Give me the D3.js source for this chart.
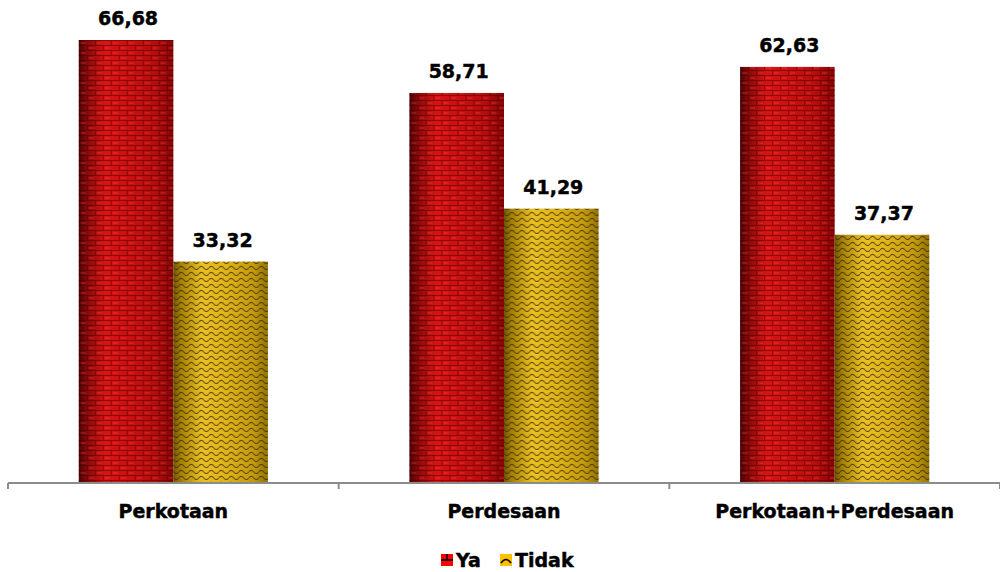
<!DOCTYPE html>
<html>
<head>
<meta charset="utf-8">
<script src="https://cdn.jsdelivr.net/npm/d3@7"></script>
<style>
  html, body { margin: 0; padding: 0; background: #fff; }
  svg { display: block; }
  text { font-family: "DejaVu Sans", Verdana, sans-serif; font-weight: bold; fill: #000; stroke: #000; stroke-width: 0.45px; }
</style>
</head>
<body>
<svg id="chart" width="1000" height="572"></svg>
<script>
// Data
const categories = ["Perkotaan", "Perdesaan", "Perkotaan+Perdesaan"];
const seriesNames = ["Ya", "Tidak"];
const yaValues = [66.68, 58.71, 62.63];
const tidakValues = [33.32, 41.29, 37.37];
const yMax = 70;

const fmt = v => v.toFixed(2).replace(".", ",");

const svg = d3.select("#chart");
const W = 1000, H = 572;
const margin = { left: 8, right: 0, top: 18, bottom: 89 };
const baseY = H - margin.bottom;

const x0 = d3.scaleBand()
  .domain(categories)
  .range([margin.left, W - margin.right])
  .paddingInner(0.428)
  .paddingOuter(0.214);

const x1 = d3.scaleBand()
  .domain(seriesNames)
  .range([0, x0.bandwidth()]);

const y = d3.scaleLinear()
  .domain([0, yMax])
  .range([baseY, baseY - (yMax / 66.68) * 443]);

const defs = svg.append("defs");

// Cylinder-like horizontal shading for each series
function shade(id, stops) {
  const g = defs.append("linearGradient").attr("id", id)
    .attr("x1", "0%").attr("x2", "100%").attr("y1", "0%").attr("y2", "0%");
  stops.forEach(([o, c]) => g.append("stop").attr("offset", o).attr("stop-color", c));
}
shade("shadeYa", [["0%", "#4a0404"], ["8%", "#850808"], ["28%", "#d81414"], ["50%", "#cc1010"], ["80%", "#b80c0c"], ["100%", "#860505"]]);
shade("shadeTidak", [["0%", "#6e5400"], ["8%", "#a48004"], ["30%", "#eac024"], ["55%", "#e0b41a"], ["85%", "#c29a0e"], ["100%", "#927204"]]);

// Brick texture
const brick = defs.append("pattern").attr("id", "brick")
  .attr("patternUnits", "userSpaceOnUse").attr("width", 16).attr("height", 10);
brick.append("path")
  .attr("d", "M0,0.5H16M0,5.5H16M0.5,0.5V5.5M8.5,5.5V10")
  .attr("stroke", "rgba(60,0,0,0.45)").attr("stroke-width", 1).attr("fill", "none");
brick.append("rect").attr("x", 2).attr("y", 2).attr("width", 5).attr("height", 2)
  .attr("fill", "rgba(255,80,80,0.22)");
brick.append("rect").attr("x", 10).attr("y", 7).attr("width", 5).attr("height", 2)
  .attr("fill", "rgba(255,80,80,0.22)");

// Wave texture
const wave = defs.append("pattern").attr("id", "wave")
  .attr("patternUnits", "userSpaceOnUse").attr("width", 10).attr("height", 6);
wave.append("path")
  .attr("d", "M0,4 Q2.5,0.8 5,4 T10,4")
  .attr("stroke", "rgba(60,40,0,0.75)").attr("stroke-width", 1.1).attr("fill", "none");

// Legend swatch textures
const lgYa = defs.append("pattern").attr("id", "lgYa")
  .attr("patternUnits", "objectBoundingBox").attr("width", 1).attr("height", 1);
lgYa.append("rect").attr("width", 12).attr("height", 12).attr("fill", "#ff0000");
lgYa.append("path").attr("d", "M0,6H12M6,0V6").attr("stroke", "#000").attr("stroke-width", 1.5);
const lgTi = defs.append("pattern").attr("id", "lgTi")
  .attr("patternUnits", "objectBoundingBox").attr("width", 1).attr("height", 1);
lgTi.append("rect").attr("width", 12).attr("height", 12).attr("fill", "#ffc000");
lgTi.append("path").attr("d", "M1,9 Q6,2 11,9").attr("stroke", "#000").attr("stroke-width", 1.6).attr("fill", "none");

const rows = categories.map((c, i) => ({ cat: c, vals: [
  { s: "Ya", v: yaValues[i] }, { s: "Tidak", v: tidakValues[i] }
]}));

const fills = { Ya: ["url(#shadeYa)", "url(#brick)"], Tidak: ["url(#shadeTidak)", "url(#wave)"] };

const groups = svg.append("g").selectAll("g").data(rows).join("g")
  .attr("transform", d => `translate(${x0(d.cat)},0)`);

const bars = groups.selectAll("g.bar").data(d => d.vals).join("g").attr("class", "bar");
bars.append("rect")
  .attr("x", d => x1(d.s)).attr("width", x1.bandwidth())
  .attr("y", d => y(d.v)).attr("height", d => baseY - y(d.v))
  .attr("fill", d => fills[d.s][0]);
bars.append("rect")
  .attr("x", d => x1(d.s)).attr("width", x1.bandwidth())
  .attr("y", d => y(d.v)).attr("height", d => baseY - y(d.v))
  .attr("fill", d => fills[d.s][1]);
bars.append("text")
  .attr("x", d => x1(d.s) + x1.bandwidth() / 2 + 2)
  .attr("y", d => y(d.v) - 15)
  .attr("text-anchor", "middle")
  .attr("font-size", 19)
  .text(d => fmt(d.v));

// Category axis: baseline with ticks on category boundaries
const axis = svg.append("g");
axis.append("line")
  .attr("x1", margin.left).attr("x2", W - margin.right)
  .attr("y1", baseY).attr("y2", baseY)
  .attr("stroke", "#8c8c8c").attr("stroke-width", 2);
const bounds = d3.range(categories.length + 1).map(i => margin.left + i * x0.step());
axis.selectAll("line.tick").data(bounds).join("line").attr("class", "tick")
  .attr("x1", d => d).attr("x2", d => d)
  .attr("y1", baseY).attr("y2", baseY + 6)
  .attr("stroke", "#8c8c8c").attr("stroke-width", 2);
axis.selectAll("text").data(categories).join("text")
  .attr("x", d => x0(d) + x0.bandwidth() / 2)
  .attr("y", baseY + 35)
  .attr("text-anchor", "middle")
  .attr("font-size", 19)
  .text(d => d);

// Legend
const legend = svg.append("g").attr("transform", "translate(441,555)");
const lgItems = [{ s: "Ya", f: "url(#lgYa)", x: 0 }, { s: "Tidak", f: "url(#lgTi)", x: 59 }];
const li = legend.selectAll("g").data(lgItems).join("g")
  .attr("transform", d => `translate(${d.x},0)`);
li.append("rect").attr("width", 12).attr("height", 12).attr("y", -1).attr("fill", d => d.f);
li.append("text").attr("x", 15).attr("y", 12).attr("font-size", 19).text(d => d.s);
</script>
</body>
</html>
